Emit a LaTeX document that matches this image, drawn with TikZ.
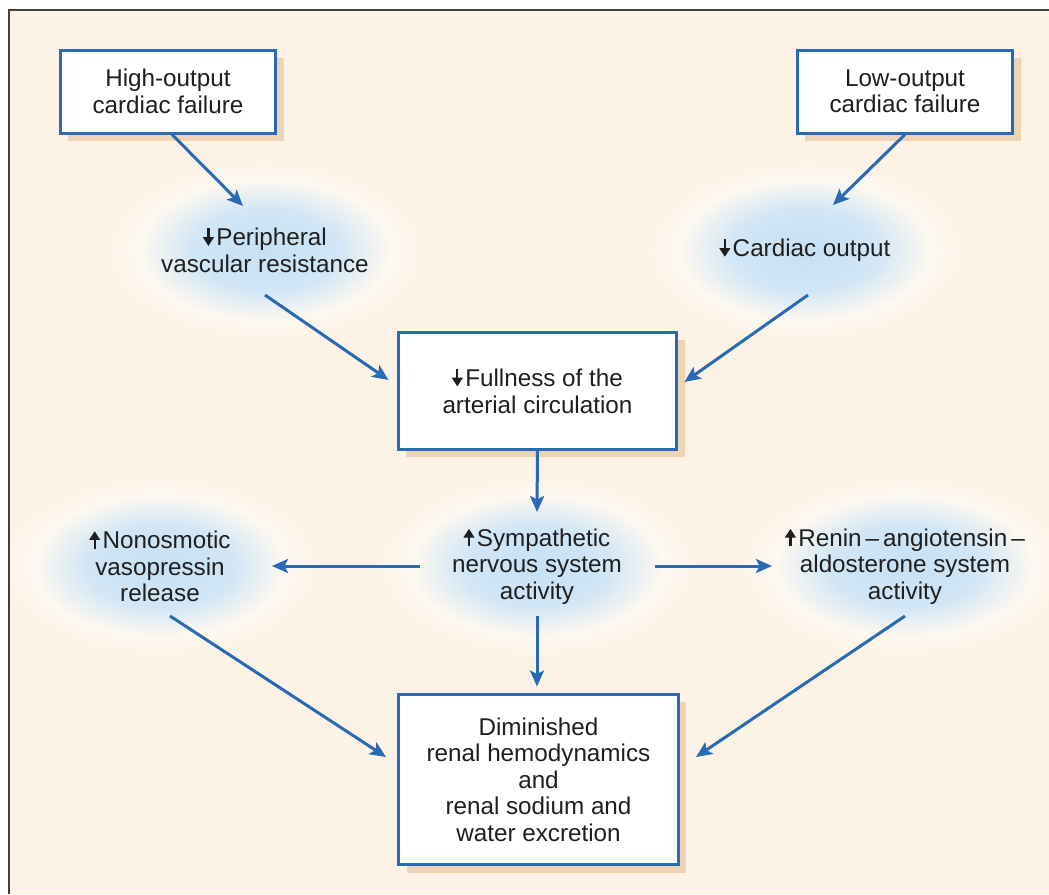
\documentclass[tikz,border=0pt]{standalone}
\usepackage{fontspec}
\setmainfont{Liberation Sans}
\usepackage{tikz}
\usetikzlibrary{positioning,arrows.meta,calc,shapes.geometric,shadows}
\definecolor{cream}{RGB}{252,243,230}
\definecolor{flowblue}{RGB}{40,106,182}
\definecolor{shadowtan}{RGB}{238,211,181}
\definecolor{glowblue}{RGB}{198,224,244}
\definecolor{framegray}{RGB}{64,64,64}
\pgfdeclareradialshading{glow}{\pgfpoint{0bp}{0bp}}{color(0bp)=(glowblue); color(11bp)=(glowblue!80!white); color(19bp)=(white!40!cream); color(25bp)=(cream); color(50bp)=(cream)}
\newcommand{\dn}{\tikz[baseline=0pt]\draw[line width=1.3pt,-{Triangle[length=5pt,width=6pt]}] (0,10pt) -- (0,0pt);\hspace{1.5pt}}
\newcommand{\up}{\tikz[baseline=0pt]\draw[line width=1.3pt,-{Triangle[length=5pt,width=6pt]}] (0,0pt) -- (0,10pt);\hspace{1.5pt}}
\tikzset{
  txt/.style={font=\fontsize{13.8}{15.1}\selectfont, text=black!88, align=center},
  box/.style={txt, draw=flowblue, line width=0.06cm, fill=white, inner sep=0pt,
    general shadow={fill=shadowtan, shadow xshift=0.16cm, shadow yshift=-0.16cm}},
  glow/.style={txt, ellipse, shade, shading=glow, minimum width=6.6cm, minimum height=3.7cm, inner sep=0pt},
  flow/.style={draw=flowblue, line width=0.06cm, -{Stealth[length=0.32cm, width=0.28cm, inset=0.07cm]}}
}

\begin{document}
\begin{tikzpicture}[x=0.02cm, y=-0.02cm]
  \useasboundingbox (0,0) rectangle (1049,894);
  \fill[white] (0,0) rectangle (1049,894);
  \fill[cream] (9,10) rectangle (1049,894);

  \begin{scope}
    \clip (9,10) rectangle (1049,894);
    \node[glow] (pvr) at (265,250) {\dn Peripheral\\vascular resistance};
    \node[glow] (co) at (805,250) {\dn Cardiac output};
    \node[glow] (symp) at (537,566) {\up Sympathetic\\nervous system\\activity};
    \node[glow] (vaso) at (160,566) {\up Nonosmotic\\vasopressin\\release};
    \node[glow] (raas) at (905,566) {\up Renin\,–\,angiotensin\,–\\aldosterone system\\activity};
  \end{scope}
  \draw[framegray, line width=0.04cm] (9,894) -- (9,10) -- (1049,10);

  \node[box, minimum width=4.32cm, minimum height=1.66cm] (high) at (168,91.5) {High-output\\cardiac failure};
  \node[box, minimum width=4.32cm, minimum height=1.66cm] (low) at (905,91.5) {Low-output\\cardiac failure};
  \node[box, minimum width=5.58cm, minimum height=2.34cm] (full) at (537.5,390.5) {\dn Fullness of the\\arterial circulation};
  \node[box, minimum width=5.6cm, minimum height=3.42cm] (renal) at (538.5,779.5)
    {Diminished\\renal hemodynamics\\and\\renal sodium and\\water excretion};

  \draw[flow] ($(high.south)+(4,0)$) -- ($(pvr)+(-22,-44)$);
  \draw[flow] (low.south) -- ($(co)+(28,-45)$);
  \draw[flow] ($(pvr)+(0,45)$) -- ($(full.west)+(-8,-10.5)$);
  \draw[flow] ($(co)+(3,45)$) -- ($(full.east)+(6,-8.5)$);
  \draw[flow] (full.south) -- ($(symp)+(0,-54)$);
  \draw[flow] ($(symp)+(-117,0)$) -- ($(vaso)+(112,0)$);
  \draw[flow] ($(symp)+(118,0)$) -- ($(raas)+(-133,0)$);
  \draw[flow] ($(symp)+(0,50)$) -- ($(renal.north)+(-1.5,-6)$);
  \draw[flow] ($(vaso)+(10,50)$) -- ($(renal.west)+(-11,-22.5)$);
  \draw[flow] ($(raas)+(0,50)$) -- ($(renal.east)+(16,-22.5)$);
\end{tikzpicture}
\end{document}
